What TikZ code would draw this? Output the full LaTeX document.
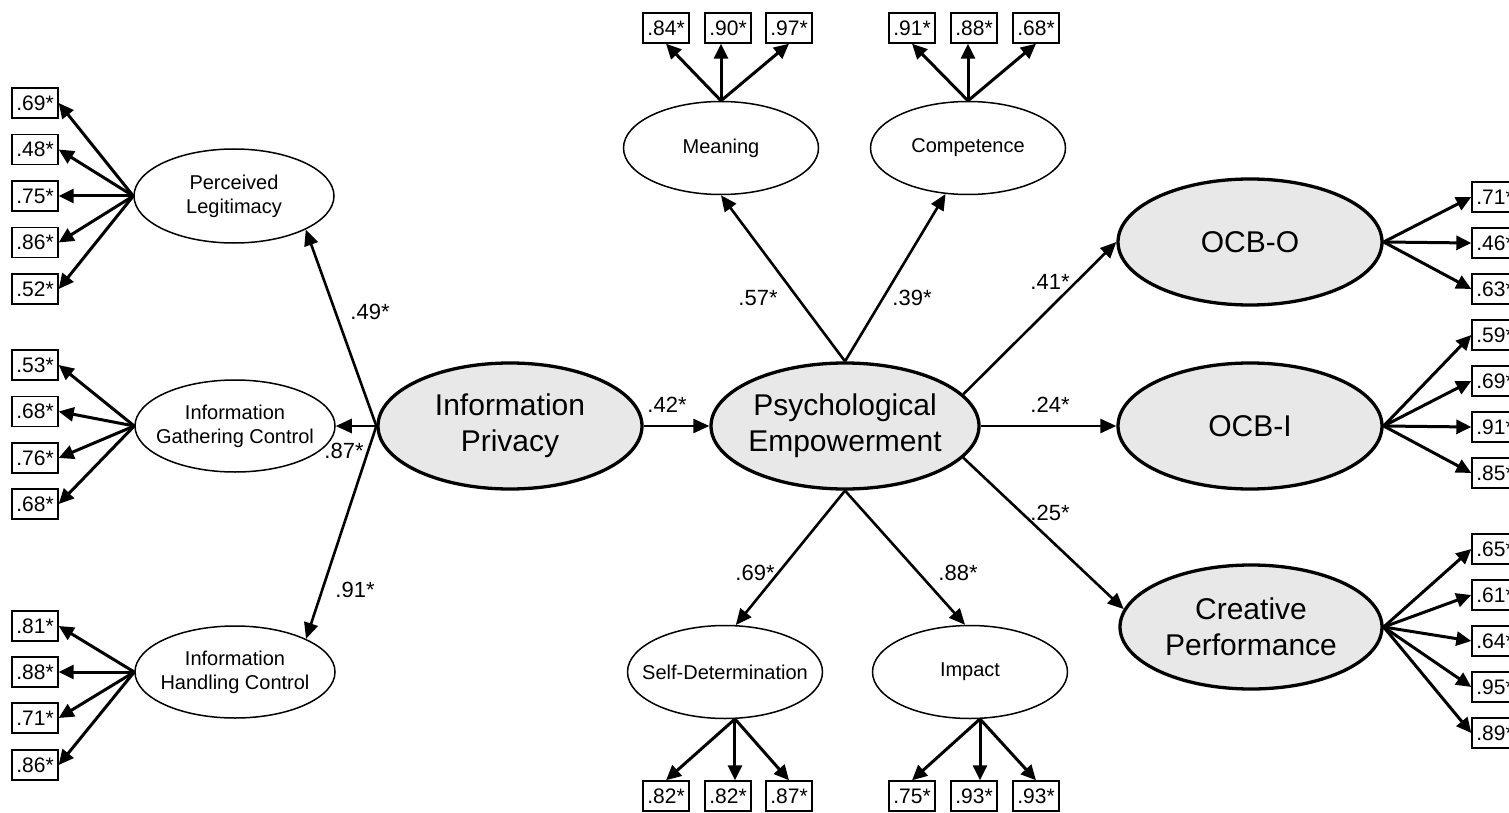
\documentclass[tikz,border=0pt]{standalone}
\usepackage{fontspec}
\setmainfont{Liberation Sans}
\usetikzlibrary{arrows.meta,shapes.geometric}
\tikzset{
  latent/.style={ellipse, draw, line width=3.3pt, fill=gray!18, inner sep=0pt},
  factor/.style={ellipse, draw, line width=1.5pt, fill=white, inner sep=0pt},
  bigtxt/.style={font=\fontsize{30}{36}\selectfont, align=center, inner sep=0pt},
  smalltxt/.style={font=\fontsize{20}{24}\selectfont, align=center, inner sep=0pt},
  ind/.style={draw, line width=1.4pt, fill=white, minimum width=46pt, minimum height=30pt, inner sep=0pt, font=\fontsize{21}{21}\selectfont},
  load/.style={-{Triangle[length=15pt,width=14pt]}, line width=3pt},
  pth/.style={-{Triangle[length=16pt,width=14pt]}, line width=2.6pt},
  coef/.style={font=\fontsize{22}{22}\selectfont, inner sep=0pt}
}
\begin{document}
\begin{tikzpicture}[x=1pt,y=-1pt]
\useasboundingbox (0,0) rectangle (1509,813);
\clip (0,0) rectangle (1509,813);

% left factors
\node[factor, minimum width=200pt, minimum height=94pt,
  label={[smalltxt]center:Perceived\\Legitimacy}] (pl) at (234,196) {};
\node[factor, minimum width=200pt, minimum height=92pt,
  label={[smalltxt]center:Information\\Gathering Control}] (igc) at (235,426) {};
\node[factor, minimum width=200pt, minimum height=92pt,
  label={[smalltxt]center:Information\\Handling Control}] (ihc) at (235,672) {};

% central latents
\node[latent, minimum width=264pt, minimum height=126pt,
  label={[bigtxt]center:Information\\Privacy}] (ip) at (510,426) {};
\node[latent, minimum width=268pt, minimum height=126pt,
  label={[bigtxt]center:Psychological\\Empowerment}] (pe) at (845,426) {};

% empowerment dimensions
\node[factor, minimum width=195pt, minimum height=93pt,
  label={[smalltxt]center:Meaning}] (mean) at (721,148) {};
\node[factor, minimum width=195pt, minimum height=93pt,
  label={[smalltxt]center:Competence}] (comp) at (968,148) {};
\node[factor, minimum width=195pt, minimum height=93pt,
  label={[smalltxt]center:Self-Determination}] (sd) at (725,672) {};
\node[factor, minimum width=195pt, minimum height=93pt,
  label={[smalltxt]center:Impact}] (imp) at (970,672) {};

% outcomes
\node[latent, minimum width=264pt, minimum height=126pt,
  label={[bigtxt]center:OCB-O}] (ocbo) at (1250,242) {};
\node[latent, minimum width=264pt, minimum height=126pt,
  label={[bigtxt]center:OCB-I}] (ocbi) at (1250,426) {};
\node[latent, minimum width=262pt, minimum height=124pt,
  label={[bigtxt]center:Creative\\Performance}] (cr) at (1251,627) {};

% structural paths
\draw[pth] (ip.west) -- (pl.-25);
\draw[pth] (ip.west) -- (igc.east);
\draw[pth] (ip.west) -- (ihc.25);
\draw[pth] (ip.east) -- (pe.west);
\draw[pth] (pe.north) -- (mean.south);
\draw[pth] (pe.north) -- (comp.244);
\draw[pth] (pe.south) -- (sd.77);
\draw[pth] (pe.south) -- (imp.96);
\draw[pth] (pe.15) -- (ocbo.west);
\draw[pth] (pe.east) -- (ocbi.west);
\draw[pth] (pe.-15) -- (cr.172);

% coefficients
\node[coef] (c1) at (370,312) {.49*};
\node[coef] (c2) at (344,451) {.87*};
\node[coef] (c3) at (355,590) {.91*};
\node[coef] (c4) at (667,405) {.42*};
\node[coef] (c5) at (758,298) {.57*};
\node[coef] (c6) at (912,298) {.39*};
\node[coef] (c7) at (755,573) {.69*};
\node[coef] (c8) at (958,573) {.88*};
\node[coef] (c9) at (1050,282) {.41*};
\node[coef] (c10) at (1050,405) {.24*};
\node[coef] (c11) at (1050,513) {.25*};

% left indicators
\foreach \y/\t [count=\i] in {103/.69*,149.5/.48*,196/.75*,242.5/.86*,289/.52*}{
  \node[ind] (pli\i) at (35,\y) {\t};
  \draw[load] (pl.west) -- (pli\i.east);
}
\foreach \y/\t [count=\i] in {365/.53*,411.5/.68*,458/.76*,504/.68*}{
  \node[ind] (igci\i) at (35,\y) {\t};
  \draw[load] (igc.west) -- (igci\i.east);
}
\foreach \y/\t [count=\i] in {626/.81*,672/.88*,718/.71*,765/.86*}{
  \node[ind] (ihci\i) at (35,\y) {\t};
  \draw[load] (ihc.west) -- (ihci\i.east);
}

% top indicators
\node[ind] (mi1) at (666,28) {.84*};
\node[ind] (mi2) at (728,28) {.90*};
\node[ind] (mi3) at (789,28) {.97*};
\draw[load] (mean.north) -- (mi1.south);
\draw[load] (mean.north) -- (mean.north |- mi2.south);
\draw[load] (mean.north) -- (mi3.south);
\node[ind] (ci1) at (912,28) {.91*};
\node[ind] (ci2) at (974,28) {.88*};
\node[ind] (ci3) at (1036,28) {.68*};
\draw[load] (comp.north) -- (ci1.south);
\draw[load] (comp.north) -- (comp.north |- ci2.south);
\draw[load] (comp.north) -- (ci3.south);

% bottom indicators
\node[ind] (si1) at (666,796) {.82*};
\node[ind] (si2) at (728,796) {.82*};
\node[ind] (si3) at (789,796) {.87*};
\draw[load] (sd.-78) -- (si1.north);
\draw[load] (sd.-78) -- (sd.-78 |- si2.north);
\draw[load] (sd.-78) -- (si3.north);
\node[ind] (ii1) at (912,796) {.75*};
\node[ind] (ii2) at (974,796) {.93*};
\node[ind] (ii3) at (1036,796) {.93*};
\draw[load] (imp.-78) -- (ii1.north);
\draw[load] (imp.-78) -- (imp.-78 |- ii2.north);
\draw[load] (imp.-78) -- (ii3.north);

% right indicators
\foreach \y/\t [count=\i] in {197/.71*,243/.46*,289/.63*}{
  \node[ind] (oi\i) at (1495,\y) {\t};
  \draw[load] (ocbo.east) -- (oi\i.west);
}
\foreach \y/\t [count=\i] in {335/.59*,381/.69*,427/.91*,473/.85*}{
  \node[ind] (bi\i) at (1495,\y) {\t};
  \draw[load] (ocbi.east) -- (bi\i.west);
}
\foreach \y/\t [count=\i] in {549/.65*,595/.61*,641/.64*,687/.95*,733/.89*}{
  \node[ind] (cri\i) at (1495,\y) {\t};
  \draw[load] (cr.east) -- (cri\i.west);
}
\end{tikzpicture}
\end{document}
